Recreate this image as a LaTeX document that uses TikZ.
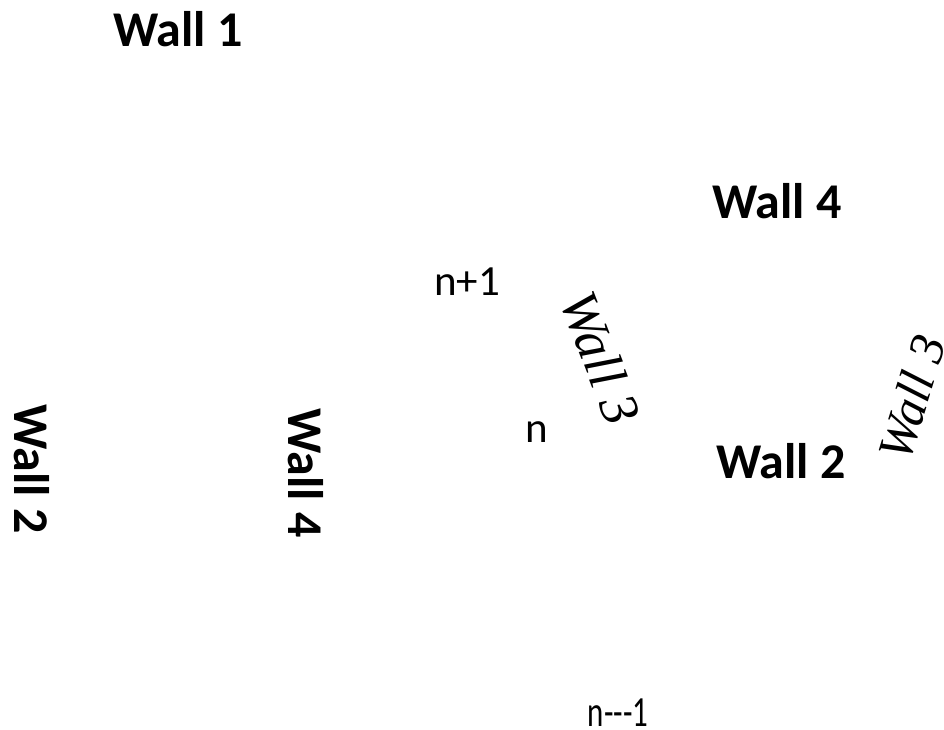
\documentclass[tikz,border=0pt]{standalone}
\usepackage{fontspec}
\setmainfont{Carlito}
\newfontfamily\scriptf{Liberation Serif}
\begin{document}
\begin{tikzpicture}[x=1pt,y=-1pt,
  wall/.style={font=\fontsize{50}{56}\selectfont\bfseries, inner sep=0pt},
  lab/.style={font=\fontsize{43}{50}\selectfont, inner sep=0pt},
  scr/.style={font=\fontsize{54}{60}\selectfont\scriptf\itshape, inner sep=0pt}]
\useasboundingbox (0,0) rectangle (944,729);
\node[wall] (w1) at (178,29) {Wall 1};
\node[wall] (w4r) at (777,201) {Wall 4};
\node[wall] (w2r) at (781,461) {Wall 2};
\node[wall, rotate=-90] (w2l) at (32,469) {Wall 2};
\node[wall, rotate=-90] (w4l) at (306,473) {Wall 4};
\node[lab] (np1) at (467,282) {n+1};
\node[lab] (n) at (537,432) {n};
\node[lab] (nm1) at (618,713) {\scalebox{0.72}[1]{n{-}{-}{-}1}};
\node[scr, rotate=-69] (w3a) at (601,358) {Wall 3};
\node[scr, rotate=73, font=\fontsize{50}{56}\selectfont\scriptf\itshape] (w3b) at (912,398) {Wall 3};
\end{tikzpicture}
\end{document}
